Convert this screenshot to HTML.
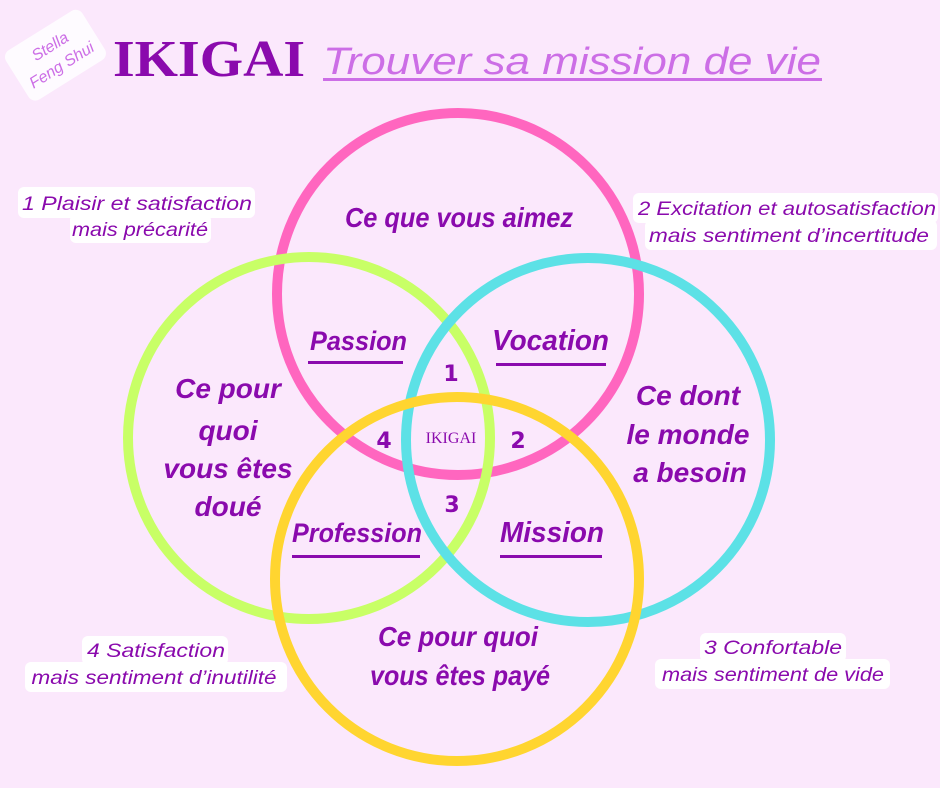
<!DOCTYPE html>
<html><head><meta charset="utf-8"><style>
html,body{margin:0;padding:0;background:#fbe8fc;}
svg{display:block}
.h{font-family:"Liberation Sans",sans-serif;font-style:italic;font-weight:bold;fill:#8a0aad;}
.c{font-family:"Liberation Sans",sans-serif;font-style:italic;fill:#8a0aad;}
</style></head><body>
<svg width="940" height="788" viewBox="0 0 940 788" xmlns="http://www.w3.org/2000/svg">
<rect width="940" height="788" fill="#fbe8fc"/>
<circle cx="458" cy="294" r="181" fill="none" stroke="#ff66bf" stroke-width="10"/>
<circle cx="309" cy="438" r="181" fill="none" stroke="#c8ff66" stroke-width="10"/>
<circle cx="588" cy="440" r="182" fill="none" stroke="#5ce1e6" stroke-width="10"/>
<circle cx="457" cy="579" r="182" fill="none" stroke="#ffd530" stroke-width="10"/>

<!-- Stella Feng Shui -->
<g transform="translate(56,56) rotate(-32)">
<rect x="-45" y="-30" width="90" height="58" rx="8" fill="#fff" opacity="0.8"/>
<text x="0" y="-6" text-anchor="middle" font-family="Liberation Sans,sans-serif" font-style="italic" font-size="16" fill="#cc6ee6">Stella</text>
<text x="0" y="16" text-anchor="middle" font-family="Liberation Sans,sans-serif" font-style="italic" font-size="16" fill="#cc6ee6">Feng Shui</text>
</g>
<text x="113" y="76" font-family="Liberation Serif,serif" font-weight="bold" font-size="52" fill="#8a0aad" textLength="192" lengthAdjust="spacingAndGlyphs">IKIGAI</text>
<text x="323" y="74" font-family="Liberation Sans,sans-serif" font-style="italic" font-size="38" fill="#cc6ee6" textLength="498" lengthAdjust="spacingAndGlyphs">Trouver sa mission de vie</text>
<rect x="323" y="78" width="499" height="3" fill="#cc6ee6"/>

<!-- corner labels -->
<rect x="18" y="187" width="237" height="31" rx="6" fill="#fff"/>
<rect x="70" y="214" width="141" height="29" rx="6" fill="#fff"/>
<text class="c" x="137" y="210" font-size="19" text-anchor="middle" textLength="230" lengthAdjust="spacingAndGlyphs">1 Plaisir et satisfaction</text>
<text class="c" x="140" y="236" font-size="19" text-anchor="middle" textLength="136" lengthAdjust="spacingAndGlyphs">mais précarité</text>

<rect x="633" y="193" width="305" height="30" rx="6" fill="#fff"/>
<rect x="645" y="220" width="292" height="30" rx="6" fill="#fff"/>
<text class="c" x="787" y="215" font-size="19" text-anchor="middle" textLength="298" lengthAdjust="spacingAndGlyphs">2 Excitation et autosatisfaction</text>
<text class="c" x="789" y="242" font-size="19" text-anchor="middle" textLength="280" lengthAdjust="spacingAndGlyphs">mais sentiment d’incertitude</text>

<rect x="82" y="636" width="146" height="29" rx="6" fill="#fff"/>
<rect x="25" y="662" width="262" height="30" rx="6" fill="#fff"/>
<text class="c" x="156" y="657" font-size="19" text-anchor="middle" textLength="138" lengthAdjust="spacingAndGlyphs">4 Satisfaction</text>
<text class="c" x="154" y="684" font-size="19" text-anchor="middle" textLength="245" lengthAdjust="spacingAndGlyphs">mais sentiment d’inutilité</text>

<rect x="700" y="633" width="146" height="29" rx="6" fill="#fff"/>
<rect x="655" y="659" width="235" height="30" rx="6" fill="#fff"/>
<text class="c" x="773" y="654" font-size="19" text-anchor="middle" textLength="138" lengthAdjust="spacingAndGlyphs">3 Confortable</text>
<text class="c" x="773" y="681" font-size="19" text-anchor="middle" textLength="222" lengthAdjust="spacingAndGlyphs">mais sentiment de vide</text>

<!-- circle titles -->
<text class="h" x="459" y="227" font-size="28" text-anchor="middle" textLength="228" lengthAdjust="spacingAndGlyphs">Ce que vous aimez</text>
<text class="h" x="228" y="398" font-size="28" text-anchor="middle">Ce pour</text>
<text class="h" x="228" y="440" font-size="28" text-anchor="middle">quoi</text>
<text class="h" x="228" y="478" font-size="28" text-anchor="middle">vous êtes</text>
<text class="h" x="228" y="516" font-size="28" text-anchor="middle">doué</text>
<text class="h" x="688" y="405" font-size="28" text-anchor="middle">Ce dont</text>
<text class="h" x="688" y="444" font-size="28" text-anchor="middle">le monde</text>
<text class="h" x="690" y="482" font-size="28" text-anchor="middle">a besoin</text>
<text class="h" x="458" y="646" font-size="28" text-anchor="middle" textLength="160" lengthAdjust="spacingAndGlyphs">Ce pour quoi</text>
<text class="h" x="460" y="685" font-size="28" text-anchor="middle" textLength="180" lengthAdjust="spacingAndGlyphs">vous êtes payé</text>

<!-- zone labels -->
<text class="h" x="310" y="350" font-size="27" textLength="97" lengthAdjust="spacingAndGlyphs">Passion</text>
<rect x="308" y="361" width="95" height="3" fill="#8a0aad"/>
<text class="h" x="492" y="350" font-size="29" textLength="117" lengthAdjust="spacingAndGlyphs">Vocation</text>
<rect x="496" y="363" width="110" height="3" fill="#8a0aad"/>
<text class="h" x="292" y="542" font-size="27" textLength="130" lengthAdjust="spacingAndGlyphs">Profession</text>
<rect x="292" y="555" width="128" height="3" fill="#8a0aad"/>
<text class="h" x="500" y="542" font-size="29" textLength="104" lengthAdjust="spacingAndGlyphs">Mission</text>
<rect x="500" y="555" width="102" height="3" fill="#8a0aad"/>

<g font-family="DejaVu Sans,sans-serif" font-weight="bold" font-size="22" fill="#8a0aad" text-anchor="middle">
<text x="451" y="381">1</text>
<text x="518" y="448">2</text>
<text x="452" y="512">3</text>
<text x="384" y="448">4</text>
</g>
<text x="451" y="443" font-family="Liberation Serif,serif" font-size="16" fill="#8a0aad" text-anchor="middle">IKIGAI</text>
</svg>
</body></html>
